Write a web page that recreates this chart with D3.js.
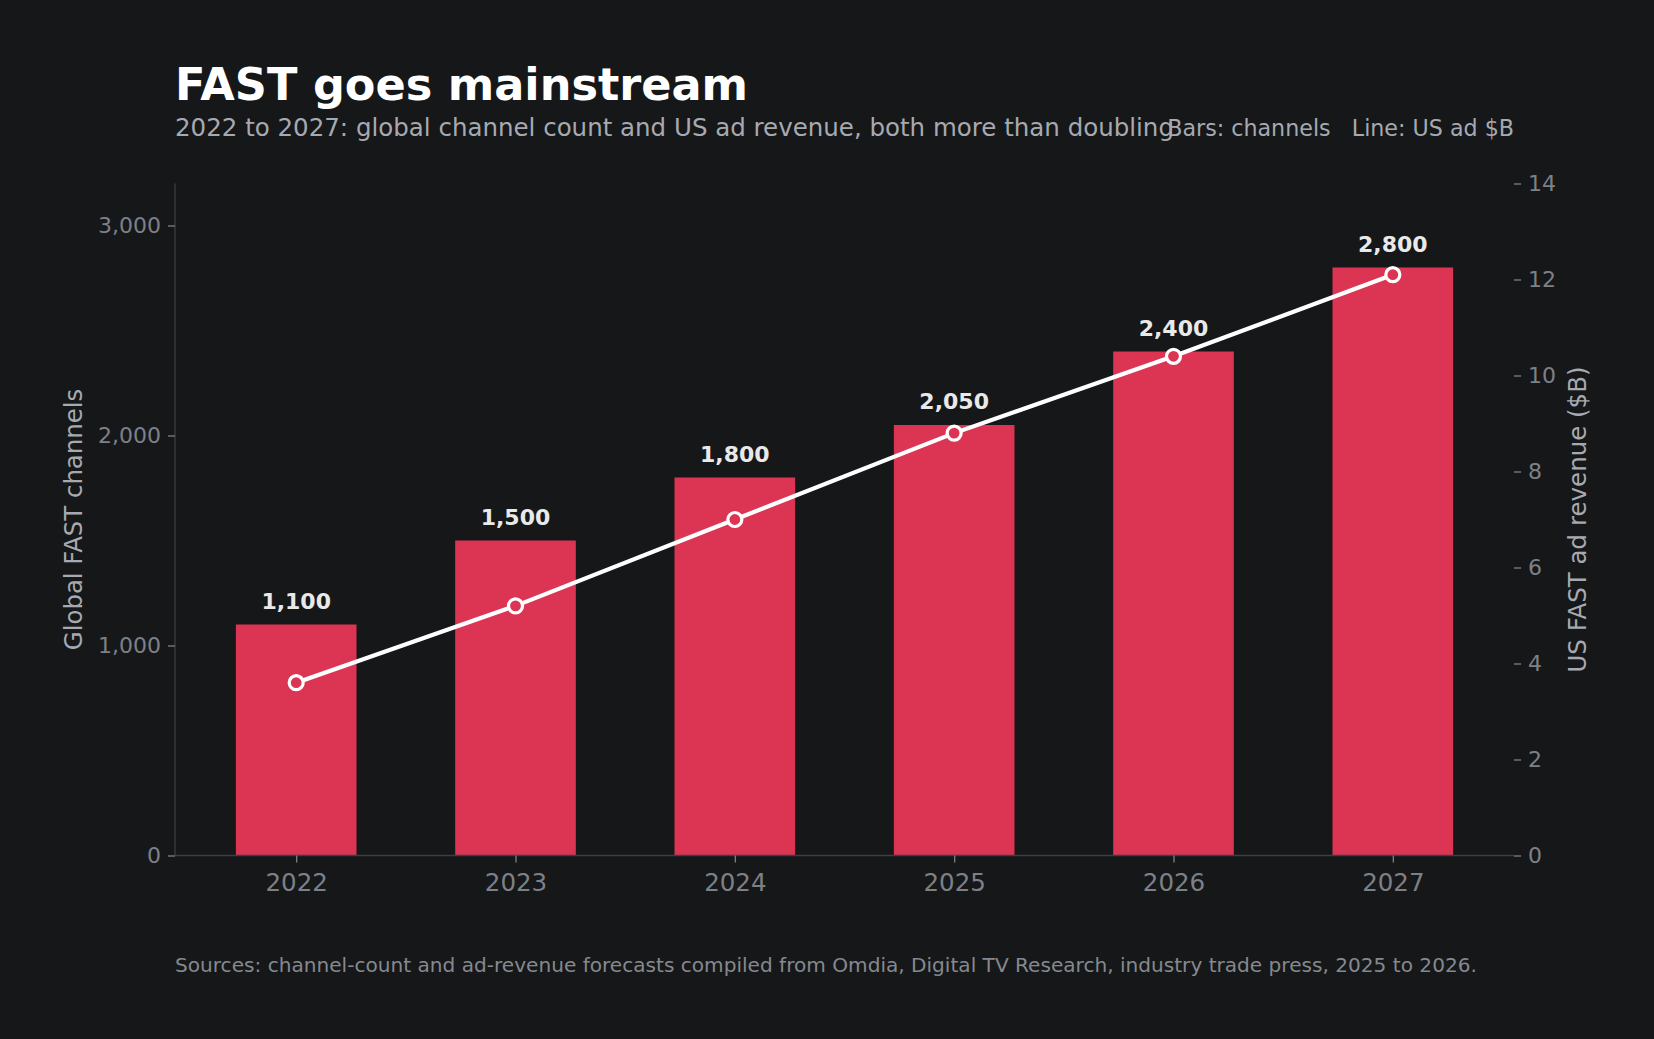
<!DOCTYPE html>
<html>
<head>
<meta charset="utf-8">
<script src="https://cdn.jsdelivr.net/npm/d3@7"></script>
<style>
  html, body { margin: 0; padding: 0; background: #161719; }
  svg { display: block; }
  text { font-family: "DejaVu Sans", sans-serif; }
</style>
</head>
<body>
<svg id="chart" width="1654" height="1039"></svg>
<script>
var years = ['2022', '2023', '2024', '2025', '2026', '2027']
var channels = [1100, 1500, 1800, 2050, 2400, 2800]
var revenue = [3.6, 5.2, 7.0, 8.8, 10.4, 12.1]
var leftTicks = [0, 1000, 2000, 3000]
var rightTicks = [0, 2, 4, 6, 8, 10, 12, 14]

var W = 1654, H = 1039
var m = {left: 175, right: 1514, top: 183.5, bottom: 855.5}
var bg = '#161719', barColor = '#dc3553', tickColor = '#7d8187', spine = '#3b3e43'

var svg = d3.select('#chart')
svg.append('rect').attr('width', W).attr('height', H).attr('fill', bg)

var x = d3.scalePoint()
	.domain(years)
	.range([m.left, m.right])
	.padding(0.5525)
var step = x.step()
var barW = step * 0.55

var y = d3.scaleLinear().domain([0, 3200]).range([m.bottom, m.top])
var y2 = d3.scaleLinear().domain([0, 14]).range([m.bottom, m.top])

// bars
svg.append('g').selectAll('rect')
	.data(channels)
	.join('rect')
	.attr('x', function(d, i) { return x(years[i]) - barW / 2 })
	.attr('y', function(d) { return y(d) })
	.attr('width', barW)
	.attr('height', function(d) { return y(0) - y(d) })
	.attr('fill', barColor)

// bar value labels
svg.append('g').selectAll('text')
	.data(channels)
	.join('text')
	.attr('x', function(d, i) { return x(years[i]) })
	.attr('y', function(d) { return y(d) - 16 })
	.attr('text-anchor', 'middle')
	.attr('fill', '#e9e9ea')
	.style('font-size', '22px')
	.style('font-weight', 700)
	.text(function(d) { return d3.format(',')(d) })

// left axis
var gl = svg.append('g').attr('transform', 'translate(' + m.left + ',0)')
	.call(d3.axisLeft(y).tickValues(leftTicks).tickFormat(d3.format(',')).tickSize(7).tickPadding(7))
gl.select('.domain').attr('stroke', spine).attr('stroke-width', 1.3)
	.attr('d', 'M0,' + m.top + 'V' + m.bottom)
gl.selectAll('.tick line').attr('stroke', tickColor).attr('stroke-width', 1.3)
gl.selectAll('.tick text').attr('fill', tickColor).style('font-size', '22px')
	.style('font-family', '"DejaVu Sans", sans-serif')

// right axis
var gr = svg.append('g').attr('transform', 'translate(' + m.right + ',0)')
	.call(d3.axisRight(y2).tickValues(rightTicks).tickSize(7).tickPadding(7))
gr.select('.domain').remove()
gr.selectAll('.tick line').attr('stroke', tickColor).attr('stroke-width', 1.3)
gr.selectAll('.tick text').attr('fill', tickColor).style('font-size', '22px')
	.style('font-family', '"DejaVu Sans", sans-serif')

// bottom axis
var gb = svg.append('g').attr('transform', 'translate(0,' + m.bottom + ')')
	.call(d3.axisBottom(x).tickSize(7).tickPadding(11))
gb.select('.domain').attr('stroke', spine).attr('stroke-width', 1.3)
	.attr('d', 'M' + m.left + ',0H' + m.right)
gb.selectAll('.tick line').attr('stroke', tickColor).attr('stroke-width', 1.3)
gb.selectAll('.tick text').attr('fill', tickColor).style('font-size', '24.5px')
	.style('font-family', '"DejaVu Sans", sans-serif')

// revenue line
var line = d3.line()
	.x(function(d, i) { return x(years[i]) })
	.y(function(d) { return y2(d) })
svg.append('path')
	.datum(revenue)
	.attr('d', line)
	.attr('fill', 'none')
	.attr('stroke', '#ffffff')
	.attr('stroke-width', 4.2)
svg.append('g').selectAll('circle')
	.data(revenue)
	.join('circle')
	.attr('cx', function(d, i) { return x(years[i]) })
	.attr('cy', function(d) { return y2(d) })
	.attr('r', 7)
	.attr('fill', barColor)
	.attr('stroke', '#ffffff')
	.attr('stroke-width', 3.2)

// axis titles
svg.append('text')
	.attr('transform', 'translate(82,' + ((m.top + m.bottom) / 2) + ') rotate(-90)')
	.attr('text-anchor', 'middle')
	.attr('fill', '#a6aab0')
	.style('font-size', '24.4px')
	.text('Global FAST channels')
svg.append('text')
	.attr('transform', 'translate(1586,' + ((m.top + m.bottom) / 2) + ') rotate(-90)')
	.attr('text-anchor', 'middle')
	.attr('fill', '#a6aab0')
	.style('font-size', '24.5px')
	.text('US FAST ad revenue ($B)')

// titles
svg.append('text')
	.attr('x', 175).attr('y', 100)
	.attr('fill', '#ffffff')
	.style('font-size', '44.6px')
	.style('font-weight', 700)
	.text('FAST goes mainstream')
svg.append('text')
	.attr('x', 175).attr('y', 136)
	.attr('fill', '#a6aab0')
	.style('font-size', '24.5px')
	.text('2022 to 2027: global channel count and US ad revenue, both more than doubling')
svg.append('text')
	.attr('x', m.right).attr('y', 136)
	.attr('text-anchor', 'end')
	.attr('fill', '#a6aab0')
	.style('font-size', '22.2px')
	.style('white-space', 'pre')
	.text('Bars: channels   Line: US ad $B')

svg.append('text')
	.attr('x', 175).attr('y', 972)
	.attr('fill', '#85898f')
	.style('font-size', '20.1px')
	.text('Sources: channel-count and ad-revenue forecasts compiled from Omdia, Digital TV Research, industry trade press, 2025 to 2026.')
</script>
</body>
</html>
